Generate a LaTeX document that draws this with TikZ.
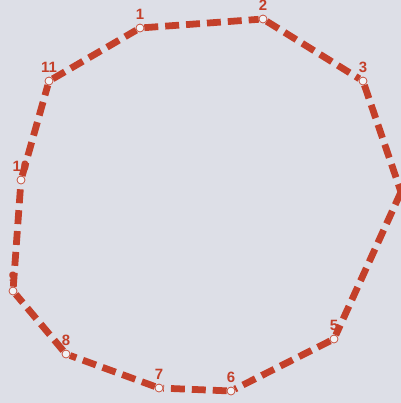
\documentclass[tikz,border=0pt]{standalone}
\usepackage{fontspec}
\setsansfont{Liberation Sans}
\usepackage{xcolor}
\usepackage{tikz}
\usetikzlibrary{positioning}
\definecolor{RouteRed}{RGB}{196,64,42}
\definecolor{PaperGrey}{RGB}{221,223,231}

\tikzset{
  stop/.style={circle, draw=RouteRed, line width=0.7pt, fill=PaperGrey!40!white,
    inner sep=0pt, minimum size=8pt},
  stoplabel/.style={text=RouteRed, inner sep=1pt, label distance=2.5pt,
    font=\sffamily\bfseries\fontsize{15}{15}\selectfont},
  route/.style={draw=RouteRed, line width=6.8pt, dash pattern=on 14pt off 7pt}
}

\begin{document}
\begin{tikzpicture}[x=1bp, y=-1bp]
      \useasboundingbox (0,0) rectangle (401,403);
      \fill[PaperGrey] (0,0) rectangle (401,403);

      % stops round the route
      \node[stop, label={[stoplabel]above:1}]  (p1)  at (140,28)  {};
      \node[stop, label={[stoplabel]above:2}]  (p2)  at (263,19)  {};
      \node[stop, label={[stoplabel]above:3}]  (p3)  at (363,81)  {};
      \coordinate (p4) at (401,192);
      \node[stop, label={[stoplabel]above:5}]  (p5)  at (334,339) {};
      \node[stop, label={[stoplabel]above:6}]  (p6)  at (231,391) {};
      \node[stop, label={[stoplabel]above:7}]  (p7)  at (159,388) {};
      \node[stop, label={[stoplabel]above:8}]  (p8)  at (66,354)  {};
      \node[stop, label={[stoplabel]above:9}]  (p9)  at (13,291)  {};
      \node[stop, label={[stoplabel]above:10}] (p10) at (21,180)  {};
      \node[stop, label={[stoplabel]above:11}] (p11) at (49,81)   {};

      % dashed route
      \foreach \a/\b in {p1/p2,p2/p3,p3/p4,p4/p5,p5/p6,p6/p7,p7/p8,p8/p9,p9/p10,p10/p11,p11/p1}
        \draw[route] (\a) -- (\b);
    \end{tikzpicture}
\end{document}
